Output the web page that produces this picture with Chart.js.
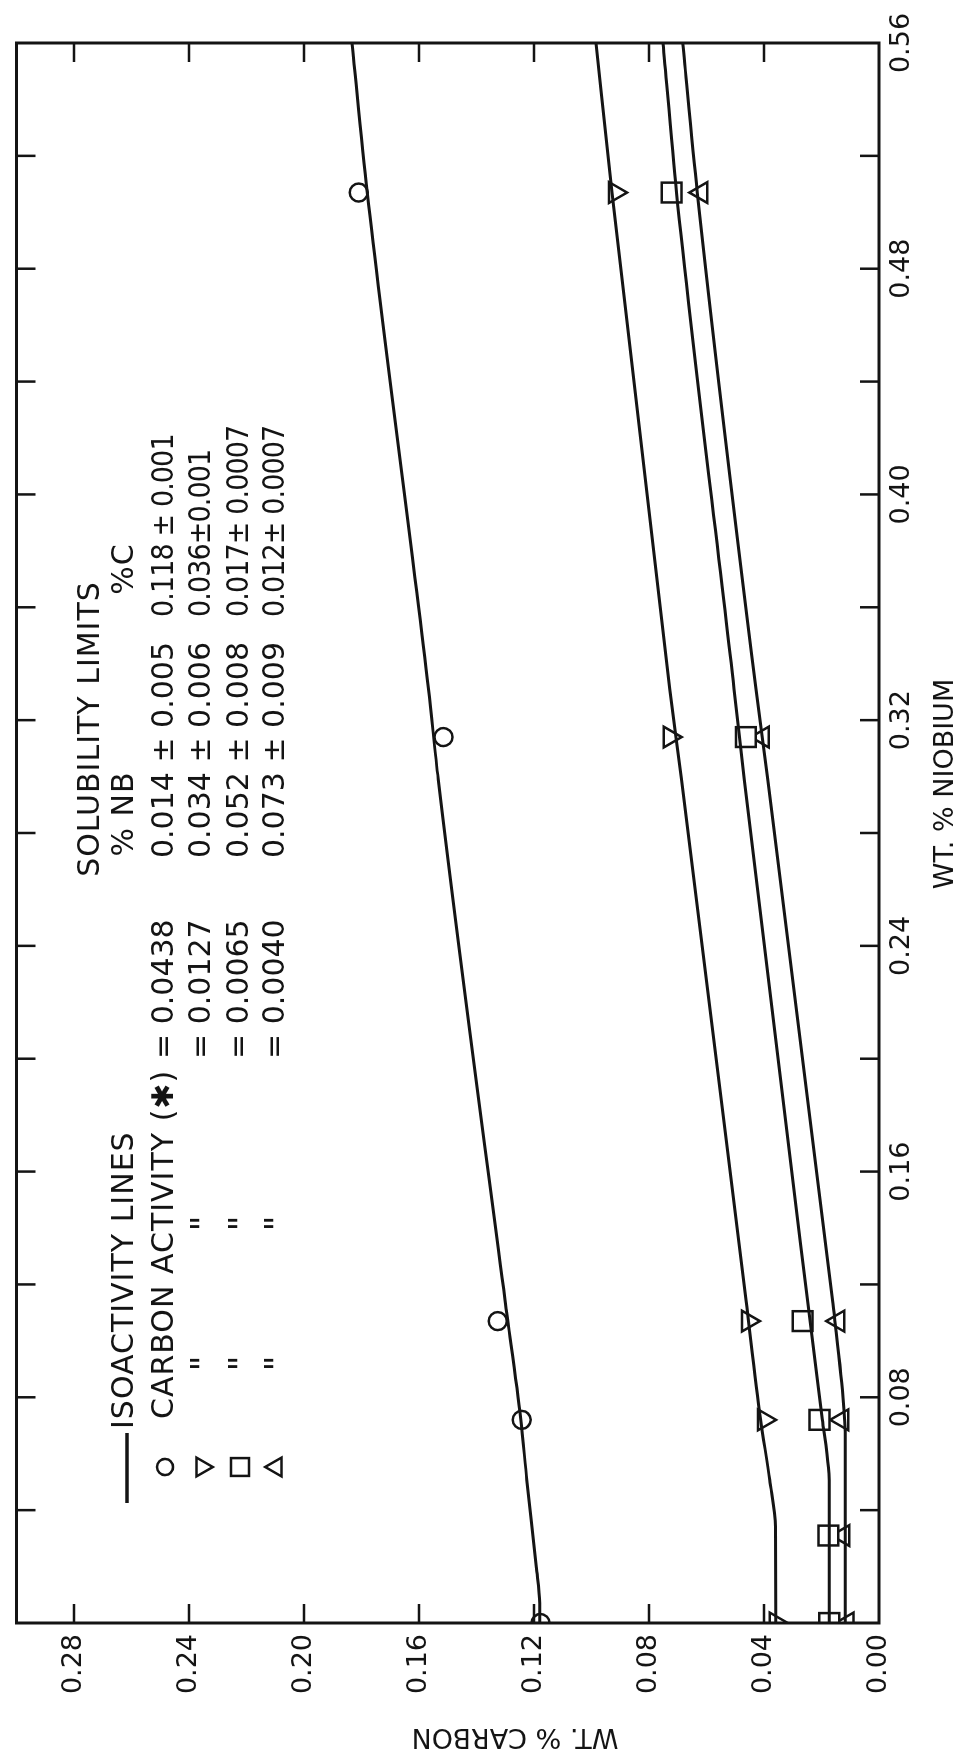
<!DOCTYPE html>
<html>
<head>
<meta charset="utf-8">
<script src="https://cdn.jsdelivr.net/npm/chart.js@4.4.1/dist/chart.umd.min.js"></script>
<style>
  html, body { margin: 0; padding: 0; background: #fff; overflow: hidden; }
  #page { position: relative; width: 964px; height: 1759px; overflow: hidden; background: #fff; }
  /* the figure is printed sideways: draw it upright, then turn it a quarter left */
  #turn { position: absolute; left: 0; top: 0; width: 1759px; height: 964px;
          transform-origin: 0 0; transform: translate(0, 1759px) rotate(-90deg); }
</style>
</head>
<body>
<div id="page"><div id="turn"><canvas id="chart" width="1759" height="964"></canvas></div></div>
<script>
const ink = "#141414"
const face = "'DejaVu Sans', sans-serif"

// legend table
const activities = ["0.0438", "0.0127", "0.0065", "0.0040"]
const nbLimits = ["0.014 ± 0.005", "0.034 ± 0.006", "0.052 ± 0.008", "0.073 ± 0.009"]
const cLimits = ["0.118 ± 0.001", "0.036±0.001", "0.017± 0.0007", "0.012± 0.0007"]

// measured points, wt.% Nb / wt.% C
const circleNb = [0, 0.072, 0.107, 0.314, 0.507]
const circleC = [0.1177, 0.1243, 0.1326, 0.1515, 0.181]
const downNb = [0, 0.072, 0.107, 0.314, 0.507]
const downC = [0.0359, 0.040, 0.0456, 0.0728, 0.0918]
const squareNb = [0, 0.031, 0.072, 0.107, 0.314, 0.507]
const squareC = [0.0173, 0.0176, 0.0207, 0.0266, 0.0463, 0.0721]
const upNb = [0, 0.031, 0.072, 0.107, 0.314, 0.507]
const upC = [0.011, 0.0124, 0.0128, 0.0142, 0.0404, 0.0618]

// isoactivity lines
const circleLineNb = [0, 0.007, 0.02, 0.0507, 0.0723, 0.1145, 0.299, 0.331, 0.507, 0.56]
const circleLineC = [0.118, 0.118, 0.1192, 0.1225, 0.1246, 0.1301, 0.1533, 0.1567, 0.178, 0.1833]
const downLineNb = [0, 0.034, 0.0507, 0.0723, 0.1145, 0.299, 0.331, 0.507, 0.56]
const downLineC = [0.0359, 0.036, 0.038, 0.0412, 0.0463, 0.0687, 0.0728, 0.0929, 0.0984]
const squareLineNb = [0, 0.045, 0.055, 0.0723, 0.1145, 0.299, 0.331, 0.507, 0.56]
const squareLineC = [0.0173, 0.0173, 0.0176, 0.0197, 0.0249, 0.0469, 0.0504, 0.0704, 0.0751]
const upLineNb = [0, 0.065, 0.08, 0.1145, 0.299, 0.331, 0.507, 0.56]
const upLineC = [0.0117, 0.0117, 0.0125, 0.0162, 0.0387, 0.0428, 0.0632, 0.0683]

const pts = (xs, ys) => xs.map((x, i) => ({ x: x, y: ys[i] }))

const lineSet = (xs, ys) => ({
  data: pts(xs, ys),
  showLine: true,
  borderColor: ink,
  borderWidth: 3,
  pointRadius: 0,
  cubicInterpolationMode: "monotone",
})

const markers = [
  { style: "circle", radius: 9, rotation: 0 },
  { style: "triangle", radius: 12, rotation: 180 },
  { style: "rect", radius: 14, rotation: 0 },
  { style: "triangle", radius: 12, rotation: 0 },
]

const markSet = (xs, ys, m) => ({
  data: pts(xs, ys),
  showLine: false,
  pointStyle: m.style,
  pointRadius: m.radius,
  pointRotation: m.rotation,
  pointBorderWidth: 2.5,
  pointBorderColor: ink,
  pointBackgroundColor: "#fff",
})

// frame, inward ticks, axis titles and the key
const paper = {
  id: "paper",
  afterDraw(chart) {
    const ctx = chart.ctx
    const a = chart.chartArea
    const xs = chart.scales.x
    const ys = chart.scales.y
    ctx.save()
    ctx.strokeStyle = ink
    ctx.fillStyle = ink

    ctx.lineWidth = 3
    ctx.strokeRect(a.left, a.top, a.right - a.left, a.bottom - a.top)

    ctx.lineWidth = 2.5
    const tick = 19
    ctx.beginPath()
    xs.ticks.forEach((t) => {
      const p = xs.getPixelForValue(t.value)
      if (p <= a.left + 1 || p >= a.right - 1) return
      ctx.moveTo(p, a.bottom); ctx.lineTo(p, a.bottom - tick)
      ctx.moveTo(p, a.top); ctx.lineTo(p, a.top + tick)
    })
    ys.ticks.forEach((t) => {
      const p = ys.getPixelForValue(t.value)
      if (p >= a.bottom - 1 || p <= a.top + 1) return
      ctx.moveTo(a.left, p); ctx.lineTo(a.left + tick, p)
      ctx.moveTo(a.right, p); ctx.lineTo(a.right - tick, p)
    })
    ctx.stroke()

    // axis titles
    ctx.font = "27px " + face
    ctx.textBaseline = "middle"
    ctx.textAlign = "center"
    ctx.fillText("WT. % NIOBIUM", 975, 946)
    ctx.save()
    ctx.translate(23, 515)
    ctx.rotate(-Math.PI / 2)
    ctx.fillText("WT. % CARBON", 0, 0)
    ctx.restore()

    // key
    ctx.font = "30px " + face
    ctx.letterSpacing = "1px"
    ctx.fillText("SOLUBILITY LIMITS", 1030, 91)
    ctx.fillText("% NB", 945, 125)
    ctx.fillText("%C", 1190, 125)
    ctx.textAlign = "left"
    ctx.fillText("ISOACTIVITY LINES", 330, 125)
    ctx.lineWidth = 3.5
    ctx.beginPath(); ctx.moveTo(256, 127); ctx.lineTo(326, 127); ctx.stroke()

    const rows = [165, 202, 240, 276]
    rows.forEach((v, i) => {
      const m = markers[i]
      ctx.fillStyle = "#fff"
      ctx.lineWidth = 2.5
      Chart.helpers.drawPoint(ctx, {
        pointStyle: m.style,
        radius: m.radius * 0.9,
        rotation: m.rotation,
        borderWidth: 2.5,
      }, 292, v)
      ctx.fillStyle = ink
      ctx.letterSpacing = "1px"
      if (i === 0) {
        ctx.fillText("CARBON ACTIVITY (✱)", 340, v)
      } else {
        ctx.font = "34px " + face
        ctx.textAlign = "center"
        ctx.fillText("\"", 396, v + 4)
        ctx.fillText("\"", 536, v + 4)
        ctx.textAlign = "left"
        ctx.font = "30px " + face
      }
      ctx.letterSpacing = "0px"
      ctx.fillText("= " + activities[i], 700, v)
      ctx.fillText(nbLimits[i], 901, v)
      // the %C column is lettered a little tighter
      ctx.save()
      ctx.letterSpacing = "-1px"
      ctx.translate(1142, v)
      ctx.scale(0.9, 1)
      ctx.fillText(cLimits[i], 0, 0)
      ctx.restore()
    })
    ctx.restore()
  },
}

new Chart(document.getElementById("chart"), {
  type: "scatter",
  data: {
    datasets: [
      lineSet(circleLineNb, circleLineC),
      lineSet(downLineNb, downLineC),
      lineSet(squareLineNb, squareLineC),
      lineSet(upLineNb, upLineC),
      markSet(circleNb, circleC, markers[0]),
      markSet(downNb, downC, markers[1]),
      markSet(squareNb, squareC, markers[2]),
      markSet(upNb, upC, markers[3]),
    ],
  },
  options: {
    responsive: false,
    animation: false,
    layout: { padding: { top: 11, right: 43, left: 0, bottom: 0 } },
    plugins: { legend: { display: false }, tooltip: { enabled: false } },
    scales: {
      x: {
        type: "linear",
        min: 0,
        max: 0.56,
        grid: { display: false, drawTicks: false },
        border: { display: false },
        afterFit: (s) => { s.height = 85; s.paddingLeft = 0; s.paddingRight = 0 },
        ticks: {
          stepSize: 0.04,
          autoSkip: false,
          maxRotation: 0,
          padding: 7,
          color: ink,
          font: { family: face, size: 27 },
          callback: (v) => {
            const k = Math.round(v * 100)
            return k > 0 && k % 8 === 0 ? (k / 100).toFixed(2) : ""
          },
        },
      },
      y: {
        type: "linear",
        min: 0,
        max: 0.30,
        grid: { display: false, drawTicks: false },
        border: { display: false },
        afterFit: (s) => { s.width = 136; s.paddingTop = 0; s.paddingBottom = 0 },
        ticks: {
          stepSize: 0.04,
          includeBounds: false,
          autoSkip: false,
          padding: 11,
          color: ink,
          font: { family: face, size: 27 },
          callback: (v) => v.toFixed(2),
        },
      },
    },
  },
  plugins: [paper],
})
</script>
</body>
</html>
